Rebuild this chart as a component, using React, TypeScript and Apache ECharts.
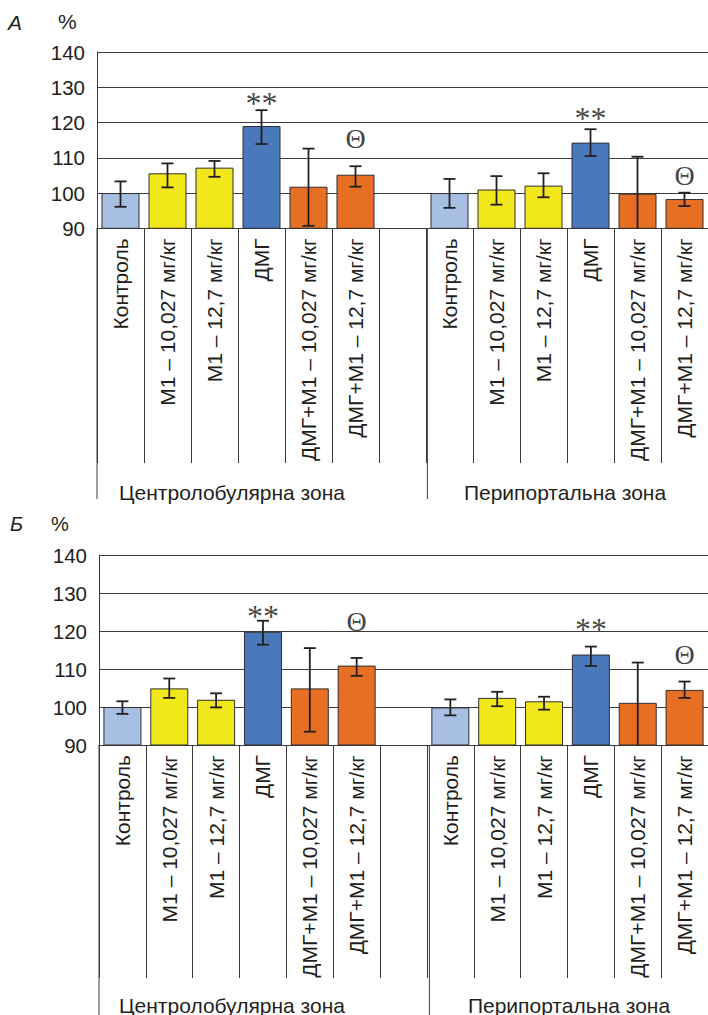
import React, { useEffect, useRef } from "react";
import * as echarts from "echarts";

// ---------- data ----------
const categories = [
  "Контроль",
  "М1 – 10,027 мг/кг",
  "М1 – 12,7 мг/кг",
  "ДМГ",
  "ДМГ+М1 – 10,027 мг/кг",
  "ДМГ+М1 – 12,7 мг/кг",
];
const groups = ["Центролобулярна зона", "Перипортальна зона"];
const yTicks = [90, 100, 110, 120, 130, 140];
const barColors = ["#a7bfe2", "#f2e71a", "#f2e71a", "#4a79bb", "#e76f24", "#e76f24"];

// Panel А (centrolobular then periportal)
const valuesA = [100, 105.6, 107.2, 119.0, 101.8, 105.2, 100.0, 101.0, 102.1, 114.3, 99.8, 98.3];
const highA = [103.3, 108.4, 109.1, 123.5, 112.6, 107.6, 104.0, 104.8, 105.6, 118.1, 110.3, 100.1];
const lowA = [96.1, 101.6, 104.6, 113.9, 90.7, 101.8, 95.8, 96.7, 98.8, 110.5, 89.3, 96.3];
const marksA = [
  { idx: 3, y: 127.2, text: "**" },
  { idx: 5, y: 115.6, text: "Θ" },
  { idx: 10, y: 122.9, text: "**" },
  { idx: 12, y: 105.1, text: "Θ" },
];

// Panel Б
const valuesB = [100, 104.9, 101.9, 119.8, 104.9, 110.9, 99.9, 102.4, 101.5, 113.8, 101.1, 104.5];
const highB = [101.5, 107.5, 103.6, 122.7, 115.5, 112.9, 102.0, 104.0, 102.7, 115.9, 111.7, 106.7];
const lowB = [98.2, 102.4, 99.9, 116.4, 93.5, 108.2, 97.8, 100.2, 99.3, 110.8, 89.5, 102.4];
const marksB = [
  { idx: 3, y: 125.5, text: "**" },
  { idx: 5, y: 122.4, text: "Θ" },
  { idx: 10, y: 122.1, text: "**" },
  { idx: 12, y: 113.7, text: "Θ" },
];

// ---------- helpers ----------
const TEXT = "#231f20";
const LINE = "#3c3c3c";
const SANS = "'Liberation Sans', Arial, sans-serif";
const SERIF = "'Liberation Serif', 'Times New Roman', serif";

// 13 slots: 6 bars, one empty gap, 6 bars
const slotKeys = Array.from({ length: 13 }, (_, i) => "c" + i);
const slotToCat = (i: number) => (i < 6 ? i : i > 6 ? i - 7 : -1);
const barIdxToSlot = (i: number) => (i < 6 ? i : i + 1);

const SLOT = 47.2;
const panels = [
  { left: 97, top: 52, height: 176.3, labelEnd: 463, longEnd: 499, groupY: 492, values: valuesA, high: highA, low: lowA, marks: marksA, groupX: [232, 565] },
  { left: 99, top: 555, height: 190, labelEnd: 978, longEnd: 1015, groupY: 1005, values: valuesB, high: highB, low: lowB, marks: marksB, groupX: [232, 569] },
];

export default function App() {
  const ref = useRef<HTMLDivElement>(null);

  useEffect(() => {
    document.body.style.margin = "0";
    if (!ref.current) return;
    const chart = echarts.init(ref.current, null, { renderer: "svg" });

    const grids: any[] = [];
    const xAxes: any[] = [];
    const yAxes: any[] = [];
    const series: any[] = [];
    const graphics: any[] = [];

    panels.forEach((p, gi) => {
      const width = SLOT * 13;
      grids.push({ left: p.left, top: p.top, width, height: p.height, containLabel: false });
      const axisBottom = p.top + p.height;
      xAxes.push({
        type: "category",
        gridIndex: gi,
        data: slotKeys,
        axisLine: { show: true, lineStyle: { color: LINE, width: 1 } },
        axisTick: { show: true, interval: 0, length: p.labelEnd - axisBottom, lineStyle: { color: LINE, width: 1 } },
        axisLabel: {
          interval: 0,
          rotate: 90,
          margin: 10,
          fontSize: 21,
          fontFamily: SANS,
          color: TEXT,
          formatter: (v: string) => {
            const c = slotToCat(parseInt(v.slice(1), 10));
            return c < 0 ? "" : categories[c];
          },
        },
        splitLine: { show: false },
      });
      yAxes.push({
        type: "value",
        gridIndex: gi,
        min: 90,
        max: 140,
        interval: 10,
        axisLine: { show: true, lineStyle: { color: LINE, width: 1 } },
        axisTick: { show: false },
        axisLabel: { fontSize: 20.5, fontFamily: SANS, color: TEXT, margin: 12, formatter: (v: number) => (yTicks.includes(v) ? String(v) : "") },
        splitLine: { show: true, lineStyle: { color: LINE, width: 1 } },
      });

      const barData: any[] = slotKeys.map(() => "-");
      p.values.forEach((v, i) => {
        barData[barIdxToSlot(i)] = { value: v, itemStyle: { color: barColors[i % 6] } };
      });
      series.push({
        type: "bar",
        xAxisIndex: gi,
        yAxisIndex: gi,
        data: barData,
        barWidth: 38,
        itemStyle: { borderColor: "#2f2f2f", borderWidth: 1 },
        z: 2,
      });

      const errData = p.values.map((_, i) => [barIdxToSlot(i), p.low[i], p.high[i]]);
      series.push({
        type: "custom",
        xAxisIndex: gi,
        yAxisIndex: gi,
        data: errData,
        z: 5,
        renderItem: (params: any, api: any) => {
          const x = api.value(0);
          const lo = api.value(1);
          const hi = api.value(2);
          const loC = Math.max(lo, 90);
          const pHi = api.coord([x, hi]);
          const pLo = api.coord([x, loC]);
          const hw = 6;
          const st = { stroke: "#231f20", lineWidth: 1.8 };
          const children: any[] = [
            { type: "line", shape: { x1: pHi[0], y1: pHi[1], x2: pLo[0], y2: pLo[1] }, style: st },
            { type: "line", shape: { x1: pHi[0] - hw, y1: pHi[1], x2: pHi[0] + hw, y2: pHi[1] }, style: st },
          ];
          if (lo >= 90) {
            children.push({ type: "line", shape: { x1: pLo[0] - hw, y1: pLo[1], x2: pLo[0] + hw, y2: pLo[1] }, style: st });
          }
          return { type: "group", children };
        },
      });

      series.push({
        type: "scatter",
        xAxisIndex: gi,
        yAxisIndex: gi,
        symbolSize: 0,
        z: 6,
        data: p.marks.map((m) => ({
          value: [m.idx, m.y],
          name: m.text,
          label: m.text === "**" ? { fontSize: 32, offset: [0, 6] } : { fontSize: 28 },
        })),
        label: {
          show: true,
          position: "inside",
          formatter: (pp: any) => pp.name,
          fontFamily: SERIF,
          color: "#111111",
        },
      });

      // long separators (axis and group divider) extending to group labels
      const xLong = [p.left, p.left + 7 * SLOT];
      xLong.forEach((x) => {
        graphics.push({
          type: "line",
          shape: { x1: x, y1: axisBottom, x2: x, y2: p.longEnd },
          style: { stroke: LINE, lineWidth: 1 },
          silent: true,
        });
      });
      groups.forEach((g, k) => {
        graphics.push({
          type: "text",
          x: p.groupX[k],
          y: p.groupY,
          style: { text: g, fontSize: 21, fontFamily: SANS, fill: TEXT, align: "center", verticalAlign: "middle" },
          silent: true,
        });
      });
    });

    // panel letters and units
    graphics.push(
      { type: "text", x: 8, y: 22, style: { text: "А", fontSize: 21, fontStyle: "italic", fontFamily: SANS, fill: TEXT, verticalAlign: "middle" } },
      { type: "text", x: 58, y: 21, style: { text: "%", fontSize: 21, fontFamily: SANS, fill: TEXT, verticalAlign: "middle" } },
      { type: "text", x: 10, y: 524, style: { text: "Б", fontSize: 20, fontStyle: "italic", fontFamily: SANS, fill: TEXT, verticalAlign: "middle" } },
      { type: "text", x: 51, y: 524, style: { text: "%", fontSize: 20, fontFamily: SANS, fill: TEXT, verticalAlign: "middle" } }
    );

    chart.setOption({
      animation: false,
      backgroundColor: "#ffffff",
      grid: grids,
      xAxis: xAxes,
      yAxis: yAxes,
      series,
      graphic: graphics,
    });

    return () => chart.dispose();
  }, []);

  return <div ref={ref} style={{ width: 708, height: 1015 }} />;
}
